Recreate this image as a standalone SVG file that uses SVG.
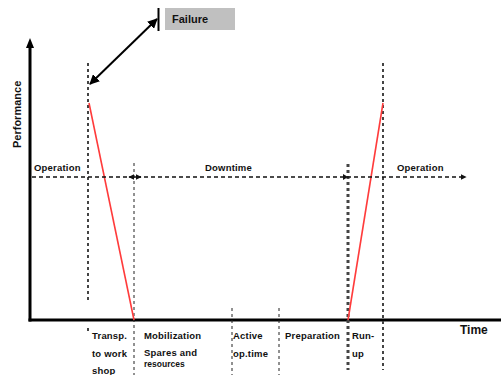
<svg xmlns="http://www.w3.org/2000/svg" width="501" height="375" viewBox="0 0 501 375">
  <style>
    text { font-family: "Liberation Sans", Arial, sans-serif; font-weight: bold; fill: #111; }
    .lbl { font-size: 9.5px; letter-spacing: 0.2px; }
    .small { font-size: 8.5px; }
    .axis { stroke: #000; stroke-width: 3; fill: none; }
    .timeline { stroke: #111; stroke-width: 1.5; stroke-dasharray: 4 3; fill: none; }
    .red { stroke: #ff3b3b; stroke-width: 1.6; fill: none; }
    .mark { stroke: #222; stroke-width: 1; stroke-dasharray: 3 3; fill: none; }
    .markBold { stroke: #444; stroke-width: 2; stroke-dasharray: 3 3; fill: none; }
    .markHeavy { stroke: #444; stroke-width: 3; stroke-dasharray: 3 3; fill: none; }
  </style>
  <defs>
    <marker id="head" viewBox="0 0 10 10" refX="9" refY="5" markerWidth="5" markerHeight="5" orient="auto-start-reverse" markerUnits="strokeWidth">
      <path d="M0,0 L10,5 L0,10 z" fill="#000"/>
    </marker>
    <marker id="tip" viewBox="0 0 10 10" refX="9" refY="5" markerWidth="4" markerHeight="4" orient="auto-start-reverse" markerUnits="strokeWidth">
      <path d="M0,0 L10,5 L0,10 z" fill="#111"/>
    </marker>
  </defs>

  <rect width="501" height="375" fill="#fff"/>

  <!-- axes -->
  <g id="axes">
    <line class="axis" x1="30" y1="321.5" x2="30" y2="44"/>
    <path d="M30,38 L26,48 L34,48 z" fill="#000"/>
    <line class="axis" x1="28.5" y1="320" x2="501" y2="320"/>
    <text x="0" y="0" font-size="11" transform="translate(21,148) rotate(-90)">Performance</text>
    <text x="460" y="334" font-size="12">Time</text>
  </g>

  <!-- failure callout -->
  <g id="failure">
    <rect x="165" y="8" width="70" height="22" fill="#c0c0c0"/>
    <line x1="158.5" y1="8" x2="158.5" y2="31" stroke="#000" stroke-width="2"/>
    <text x="172" y="23" font-size="11">Failure</text>
  </g>

  <!-- phase markers and timelines -->
  <g id="connectors">
    <line x1="157" y1="19" x2="90" y2="84" stroke="#000" stroke-width="2" marker-start="url(#head)" marker-end="url(#head)"/>

    <line class="markBold" x1="88" y1="63" x2="88" y2="302"/>
    <line class="markBold" x1="88" y1="328" x2="88" y2="331"/>
    <line class="mark" x1="134" y1="163" x2="134" y2="375"/>
    <line class="mark" x1="232" y1="308" x2="232" y2="375"/>
    <line class="mark" x1="279" y1="308" x2="279" y2="375"/>
    <line class="markHeavy" x1="348" y1="164" x2="348" y2="370"/>
    <line class="markBold" x1="383" y1="63" x2="383" y2="370" stroke-width="1.5"/>

    <line class="red" x1="89" y1="103" x2="134" y2="320"/>
    <line class="red" x1="348" y1="320" x2="383" y2="103"/>

    <line class="timeline" x1="32" y1="177" x2="466" y2="177" marker-end="url(#tip)"/>
    <line x1="129" y1="177" x2="141" y2="177" stroke="#111" stroke-width="1.5" marker-start="url(#tip)" marker-end="url(#tip)"/>
    <path d="M343,174 L348,177 L343,180 z" fill="#111"/>
  </g>

  <!-- timeline labels -->
  <g id="phases">
    <text class="lbl" x="34" y="171">Operation</text>
    <text class="lbl" x="205" y="171">Downtime</text>
    <text class="lbl" x="397" y="171">Operation</text>
  </g>

  <!-- downtime breakdown -->
  <g id="segments">
    <text class="lbl" x="92" y="339">Transp.</text>
    <text class="lbl" x="92" y="357">to work</text>
    <text class="lbl" x="92" y="374">shop</text>
    <text class="lbl" x="144" y="339">Mobilization</text>
    <text class="lbl" x="144" y="356">Spares and</text>
    <text class="small" x="144" y="367">resources</text>
    <text class="lbl" x="233" y="339">Active</text>
    <text class="lbl" x="233" y="357">op.time</text>
    <text class="lbl" x="285" y="339">Preparation</text>
    <text class="lbl" x="352" y="339">Run-</text>
    <text class="lbl" x="352" y="357">up</text>
  </g>
</svg>
